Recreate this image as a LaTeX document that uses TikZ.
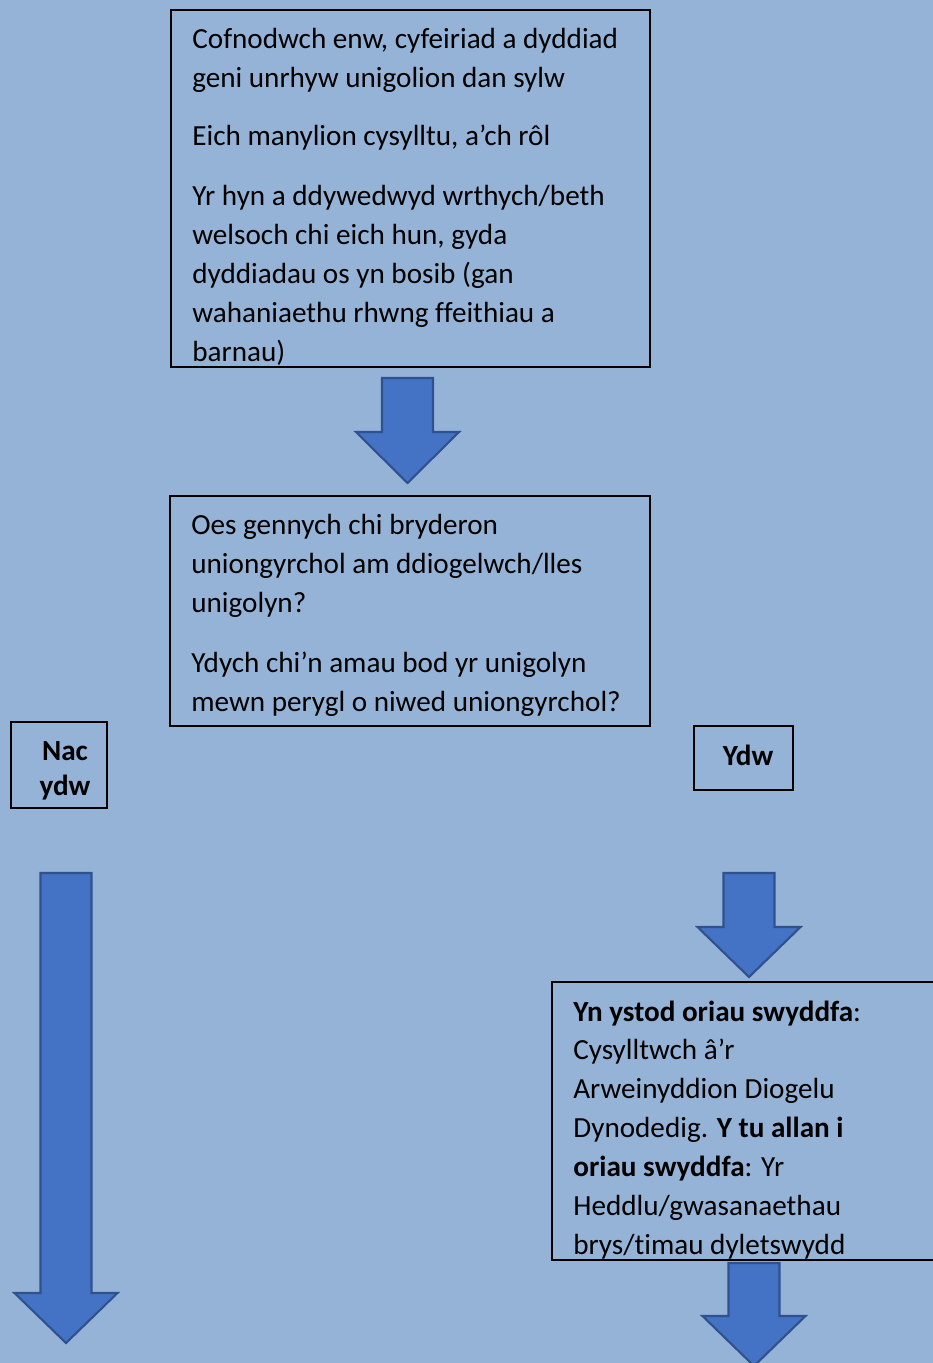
\documentclass[tikz,border=0pt]{standalone}
\usepackage{fontspec}
\setmainfont{Carlito}[Ligatures=CommonOff]
\usepackage{xcolor}
\usetikzlibrary{calc, fit}

\definecolor{pagebg}{HTML}{95B3D7}
\definecolor{arrowfill}{HTML}{4472C4}
\definecolor{arrowline}{HTML}{2F528F}

\begin{document}
\begin{tikzpicture}[x=0.02cm, y=-0.02cm,
    box/.style={draw=black, line width=0.8pt, inner sep=0pt},
    txt/.style={inner sep=0pt, align=left, anchor=base west,
        font=\fontsize{16.6}{22.1}\selectfont},
    tag/.style={inner sep=0pt, align=center, anchor=base,
        font=\fontsize{16.6}{19.8}\selectfont\bfseries},
    blockarrow/.style={fill=arrowfill, draw=arrowline, line width=1.2pt, line join=miter}]
    % Page background
    \fill[pagebg] (0,0) rectangle (933,1363);
    \useasboundingbox (0,0) rectangle (933,1363);
    \clip (0,0) rectangle (933,1363);
    % Boxes
    \node[box, fit={(171,10) (650,367)}] (record) {};
    \node[box, fit={(170,496) (650,726)}] (concern) {};
    \node[box, fit={(11,722) (107,808)}] (no) {};
    \node[box, fit={(694,726) (793,790)}] (yes) {};
    \node[box, fit={(552,982) (945,1260)}] (contact) {};
    % Box texts (placed at the baseline of their last line)
    \node[txt] (recordtext) at (192,361) {Cofnodwch enw, cyfeiriad a dyddiad\\
        geni unrhyw unigolion dan sylw\\[11.3pt]
        Eich manylion cysylltu, a’ch rôl\\[11.9pt]
        Yr hyn a ddywedwyd wrthych/beth\\
        welsoch chi eich hun, gyda\\
        dyddiadau os yn bosib (gan\\
        wahaniaethu rhwng ffeithiau a\\
        barnau)};
    \node[txt] (concerntext) at (191,711) {Oes gennych chi bryderon\\
        uniongyrchol am ddiogelwch/lles\\
        unigolyn?\\[11.9pt]
        Ydych chi’n amau bod yr unigolyn\\
        mewn perygl o niwed uniongyrchol?};
    \node[tag] (notext) at (65,795) {Nac\\ydw};
    \node[tag] (yestext) at (748,765) {Ydw};
    \node[txt] (contacttext) at (573,1254) {\textbf{Yn ystod oriau swyddfa}:\\
        Cysylltwch â’r\\
        Arweinyddion Diogelu\\
        Dynodedig. \textbf{Y tu allan i}\\
        \textbf{oriau swyddfa}: Yr\\
        Heddlu/gwasanaethau\\
        brys/timau dyletswydd};
    % Block arrows (centre x / top / neck / tip)
    \foreach \cx/\ya/\yb/\yc in {407.5/378/432/483, 66/873/1293/1343,
                                 749/873/927/977, 754/1263/1316/1366} {
        \draw[blockarrow] (\cx-25.5,\ya) -- (\cx+25.5,\ya) -- (\cx+25.5,\yb)
            -- (\cx+51.5,\yb) -- (\cx,\yc) -- (\cx-51.5,\yb) -- (\cx-25.5,\yb) -- cycle;
    }
\end{tikzpicture}
\end{document}
